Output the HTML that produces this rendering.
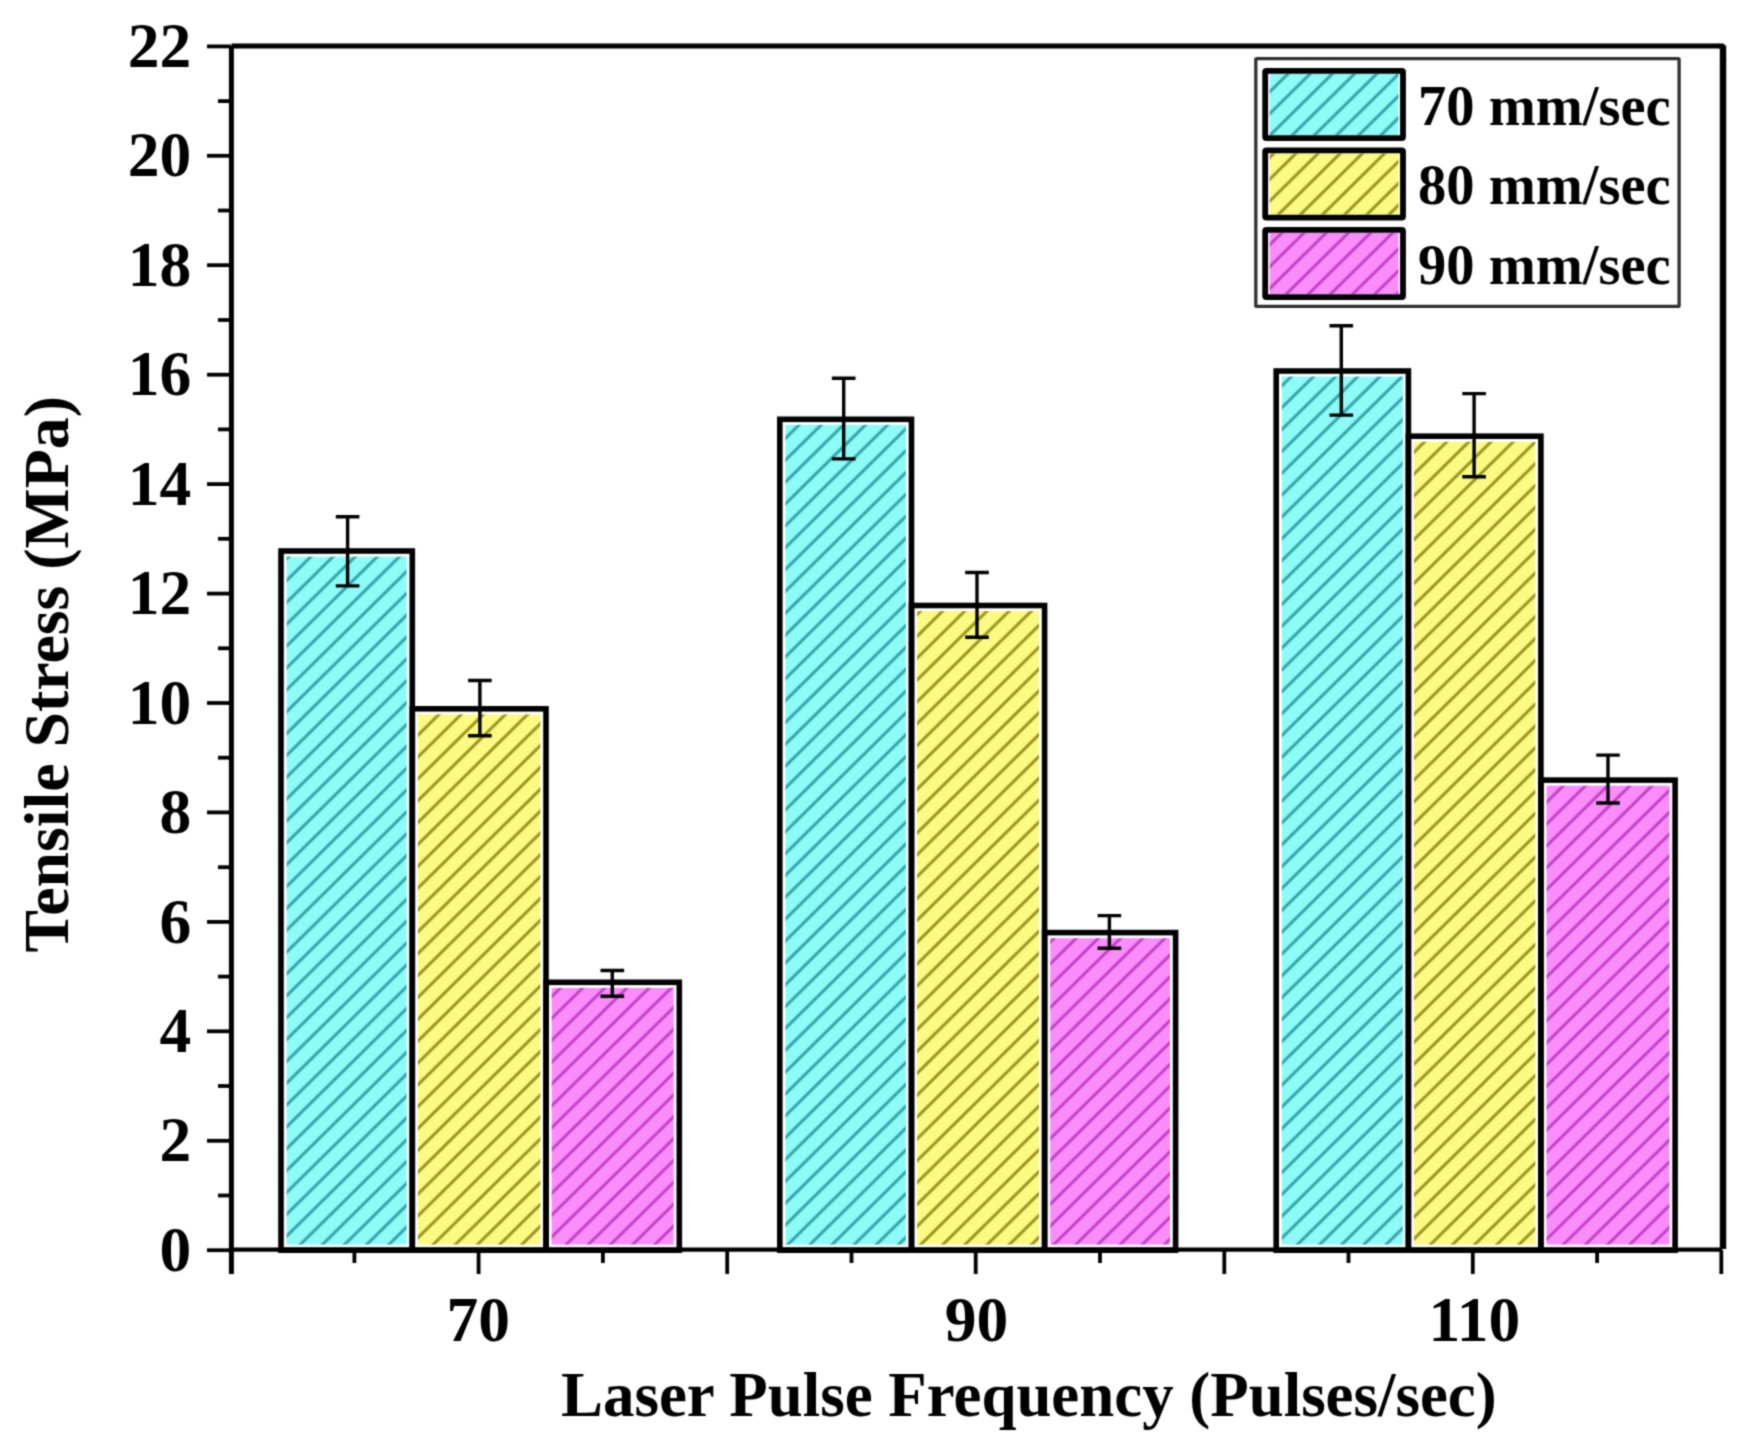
<!DOCTYPE html>
<html><head><meta charset="utf-8"><title>Tensile Stress vs Laser Pulse Frequency</title>
<style>
html,body{margin:0;padding:0;background:#fff;}
body{width:1751px;height:1454px;overflow:hidden;}
svg{display:block;}
text{font-family:"Liberation Serif","Times New Roman",serif;font-weight:bold;fill:#000;}
.t{font-size:63.5px;}
.l{font-size:56.5px;}
</style></head><body>
<svg width="1751" height="1454" viewBox="0 0 1751 1454">
<defs>
<filter id="soft" x="0" y="0" width="1751" height="1454" filterUnits="userSpaceOnUse" color-interpolation-filters="sRGB"><feConvolveMatrix order="3" kernelMatrix="0.0400 0.1200 0.0400 0.1200 0.3600 0.1200 0.0400 0.1200 0.0400" edgeMode="duplicate" preserveAlpha="true"/></filter>
<pattern id="hc" width="15.56" height="15.56" patternUnits="userSpaceOnUse" patternTransform="rotate(45.4)"><rect width="15.56" height="15.56" fill="#8dfcf7"/><line x1="7.78" y1="-1" x2="7.78" y2="17" stroke="#1f8f98" stroke-opacity="0.85" stroke-width="2.9"/></pattern>
<pattern id="hy" width="15.56" height="15.56" patternUnits="userSpaceOnUse" patternTransform="rotate(45.4)"><rect width="15.56" height="15.56" fill="#fbfb84"/><line x1="7.78" y1="-1" x2="7.78" y2="17" stroke="#857c08" stroke-opacity="0.85" stroke-width="2.9"/></pattern>
<pattern id="hm" width="15.56" height="15.56" patternUnits="userSpaceOnUse" patternTransform="rotate(45.4)"><rect width="15.56" height="15.56" fill="#fb8cfb"/><line x1="7.78" y1="-1" x2="7.78" y2="17" stroke="#b530bc" stroke-opacity="0.85" stroke-width="2.9"/></pattern>
</defs>
<g filter="url(#soft)">
<rect width="1751" height="1454" fill="#fff"/>

<g>
<rect x="286.6" y="556.6" width="120.1" height="688.0" fill="url(#hc)"/>
<rect x="417.9" y="714.4" width="122.5" height="530.2" fill="url(#hy)"/>
<rect x="551.6" y="987.9" width="122.1" height="256.7" fill="url(#hm)"/>
<rect x="785.4" y="424.9" width="120.5" height="819.7" fill="url(#hc)"/>
<rect x="917.1" y="611.1" width="121.9" height="633.5" fill="url(#hy)"/>
<rect x="1050.2" y="938.2" width="119.8" height="306.4" fill="url(#hm)"/>
<rect x="1281.8" y="376.6" width="121.0" height="868.0" fill="url(#hc)"/>
<rect x="1414.0" y="441.8" width="121.3" height="802.8" fill="url(#hy)"/>
<rect x="1546.5" y="785.7" width="123.0" height="458.9" fill="url(#hm)"/>
<rect x="281.0" y="551.0" width="131.3" height="699.2" fill="none" stroke="#000" stroke-width="5.6"/>
<rect x="412.3" y="708.8" width="133.7" height="541.4" fill="none" stroke="#000" stroke-width="5.6"/>
<rect x="546.0" y="982.3" width="133.3" height="267.9" fill="none" stroke="#000" stroke-width="5.6"/>
<rect x="779.8" y="419.3" width="131.7" height="830.9" fill="none" stroke="#000" stroke-width="5.6"/>
<rect x="911.5" y="605.5" width="133.1" height="644.7" fill="none" stroke="#000" stroke-width="5.6"/>
<rect x="1044.6" y="932.6" width="131.0" height="317.6" fill="none" stroke="#000" stroke-width="5.6"/>
<rect x="1276.2" y="371.0" width="132.2" height="879.2" fill="none" stroke="#000" stroke-width="5.6"/>
<rect x="1408.4" y="436.2" width="132.5" height="814.0" fill="none" stroke="#000" stroke-width="5.6"/>
<rect x="1540.9" y="780.1" width="134.2" height="470.1" fill="none" stroke="#000" stroke-width="5.6"/>
</g>
<g stroke="#000" stroke-width="3.4" fill="none">
<path d="M347.6 516.7V585.9M335.8 516.7H359.4M335.8 585.9H359.4"/>
<path d="M479.9 680.5V735.7M468.1 680.5H491.7M468.1 735.7H491.7"/>
<path d="M612.3 970.5V996.3M600.5 970.5H624.1M600.5 996.3H624.1"/>
<path d="M843.7 378.3V458.9M831.9 378.3H855.5M831.9 458.9H855.5"/>
<path d="M977.0 572.5V637.2M965.2 572.5H988.8M965.2 637.2H988.8"/>
<path d="M1109.4 915.6V948.2M1097.6 915.6H1121.2M1097.6 948.2H1121.2"/>
<path d="M1341.3 325.8V415.1M1329.5 325.8H1353.1M1329.5 415.1H1353.1"/>
<path d="M1474.1 393.6V476.8M1462.3 393.6H1485.9M1462.3 476.8H1485.9"/>
<path d="M1608.0 755.1V803.0M1596.2 755.1H1619.8M1596.2 803.0H1619.8"/>
</g>
<g stroke="#000" fill="none">
<path d="M231.4 1274V46" stroke-width="5"/>
<path d="M231.5 46H1719" stroke-width="5"/><path d="M1718 43.5H1723.4L1726.2 46.3V60H1719.8V48.5H1718Z" stroke="none" fill="#000"/><path d="M1723 1249V59" stroke-width="6.4"/>
<path d="M229 1249.7H1722" stroke-width="4.2"/>
<path d="M207 1250.2H231" stroke-width="3.8"/>
<path d="M218 1195.5H231" stroke-width="3.8"/>
<path d="M207 1140.8H231" stroke-width="3.8"/>
<path d="M218 1086.0H231" stroke-width="3.8"/>
<path d="M207 1031.3H231" stroke-width="3.8"/>
<path d="M218 976.6H231" stroke-width="3.8"/>
<path d="M207 921.9H231" stroke-width="3.8"/>
<path d="M218 867.2H231" stroke-width="3.8"/>
<path d="M207 812.4H231" stroke-width="3.8"/>
<path d="M218 757.7H231" stroke-width="3.8"/>
<path d="M207 703.0H231" stroke-width="3.8"/>
<path d="M218 648.3H231" stroke-width="3.8"/>
<path d="M207 593.6H231" stroke-width="3.8"/>
<path d="M218 538.8H231" stroke-width="3.8"/>
<path d="M207 484.1H231" stroke-width="3.8"/>
<path d="M218 429.4H231" stroke-width="3.8"/>
<path d="M207 374.7H231" stroke-width="3.8"/>
<path d="M218 320.0H231" stroke-width="3.8"/>
<path d="M207 265.2H231" stroke-width="3.8"/>
<path d="M218 210.5H231" stroke-width="3.8"/>
<path d="M207 155.8H231" stroke-width="3.8"/>
<path d="M218 101.1H231" stroke-width="3.8"/>
<path d="M207 46.4H231" stroke-width="3.8"/>
<path d="M354.4 1250V1263" stroke-width="3.8"/>
<path d="M478.6 1250V1274" stroke-width="3.8"/>
<path d="M602.9 1250V1263" stroke-width="3.8"/>
<path d="M727.2 1250V1274" stroke-width="3.8"/>
<path d="M851.5 1250V1263" stroke-width="3.8"/>
<path d="M975.7 1250V1274" stroke-width="3.8"/>
<path d="M1100.0 1250V1263" stroke-width="3.8"/>
<path d="M1224.3 1250V1274" stroke-width="3.8"/>
<path d="M1348.5 1250V1263" stroke-width="3.8"/>
<path d="M1472.8 1250V1274" stroke-width="3.8"/>
<path d="M1597.1 1250V1263" stroke-width="3.8"/>
<path d="M1721.3 1250V1274" stroke-width="3.8"/>
</g>
<g class="t" text-anchor="end">
<text x="191.3" y="1270.8">0</text>
<text x="191.3" y="1161.4">2</text>
<text x="191.3" y="1051.9">4</text>
<text x="191.3" y="942.5">6</text>
<text x="191.3" y="833.0">8</text>
<text x="191.3" y="723.6">10</text>
<text x="191.3" y="614.2">12</text>
<text x="191.3" y="504.7">14</text>
<text x="191.3" y="395.3">16</text>
<text x="191.3" y="285.8">18</text>
<text x="191.3" y="176.4">20</text>
<text x="191.3" y="67.0">22</text>
</g>
<g class="t" text-anchor="middle">
<text x="478.3" y="1340.5">70</text>
<text x="976.5" y="1340.5">90</text>
<text x="1474.4" y="1340.5">110</text>
</g>
<text class="t" id="xl" x="1028.9" y="1416" text-anchor="middle" style="font-size:62.9px">Laser Pulse Frequency (Pulses/sec)</text>
<text class="t" id="yl" transform="translate(67.5 674.3) rotate(-90)" text-anchor="middle" style="font-size:63.8px">Tensile Stress (MPa)</text>
<rect x="1255.8" y="58.6" width="423.3" height="247.8" rx="1" fill="#fff" stroke="#303030" stroke-width="3.3"/>
<rect x="1269.7" y="74.0" width="128.8" height="61.0" fill="url(#hc)"/>
<rect x="1265.2" y="70.9" width="137.8" height="67.2" rx="1.2" fill="none" stroke="#000" stroke-width="5.8"/>
<text class="l" x="1418" y="125.0">70 mm/sec</text>
<rect x="1269.7" y="153.5" width="128.8" height="61.0" fill="url(#hy)"/>
<rect x="1265.2" y="150.4" width="137.8" height="67.2" rx="1.2" fill="none" stroke="#000" stroke-width="5.8"/>
<text class="l" x="1418" y="204.3">80 mm/sec</text>
<rect x="1269.7" y="233.0" width="128.8" height="61.0" fill="url(#hm)"/>
<rect x="1265.2" y="229.9" width="137.8" height="67.2" rx="1.2" fill="none" stroke="#000" stroke-width="5.8"/>
<text class="l" x="1418" y="283.6">90 mm/sec</text>
</g>
</svg>
</body></html>
